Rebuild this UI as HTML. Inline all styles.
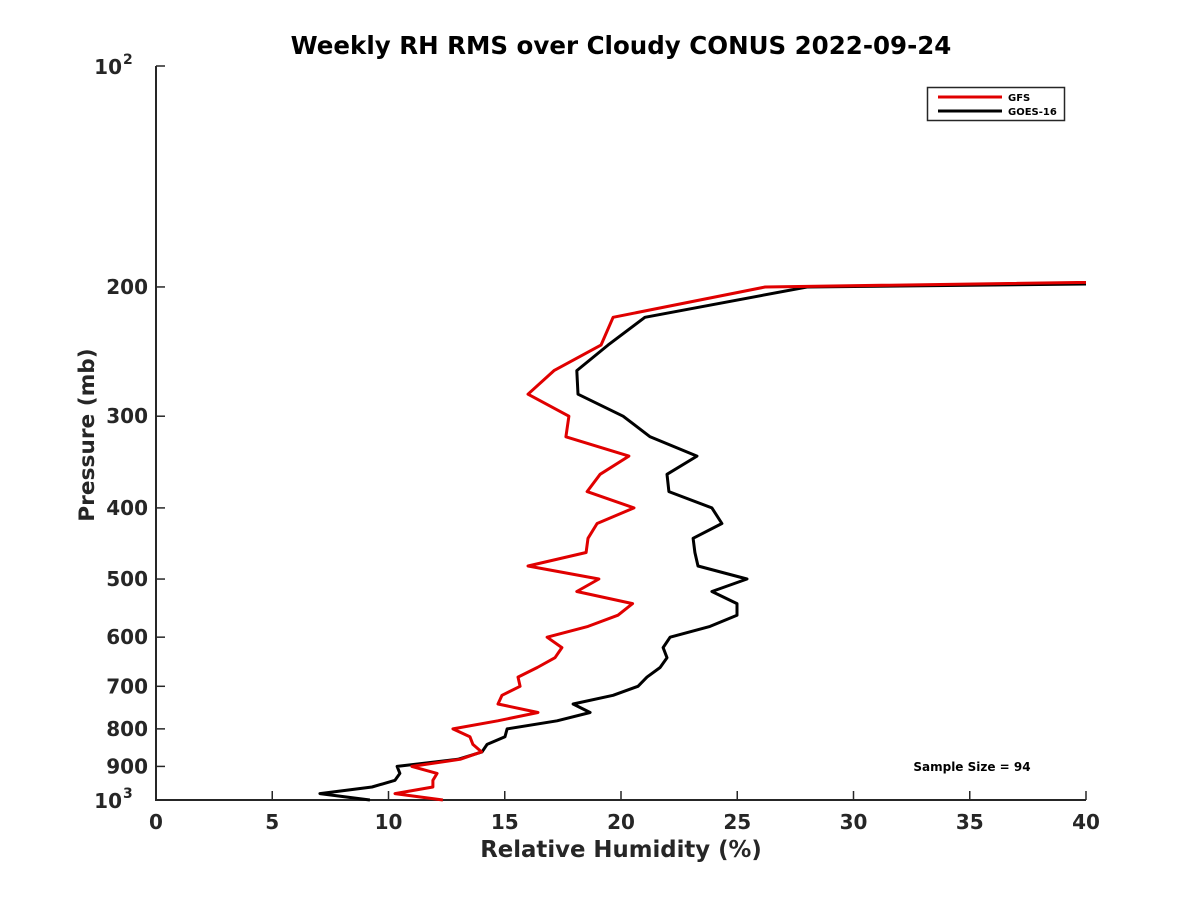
<!DOCTYPE html>
<html><head><meta charset="utf-8"><style>
html,body{margin:0;padding:0;background:#fff;}
svg text{font-family:"DejaVu Sans","Liberation Sans",sans-serif;font-weight:bold;fill:#262626;}
</style></head><body>
<svg id="chart" width="1200" height="900" xmlns="http://www.w3.org/2000/svg">
<rect width="1200" height="900" fill="#fff"/>
<text x="621" y="54" font-size="24.5" text-anchor="middle" style="fill:#000">Weekly RH RMS over Cloudy CONUS 2022-09-24</text>
<g id="axes"></g>
<g id="series"></g>
<text x="621" y="857" font-size="22.8" text-anchor="middle">Relative Humidity (%)</text>
<text transform="translate(94,435) rotate(-90)" font-size="21.7" text-anchor="middle">Pressure (mb)</text>
<text x="972" y="771" font-size="12" text-anchor="middle" style="fill:#000">Sample Size = 94</text>
<g>
<rect x="927.5" y="87.5" width="137" height="33" fill="#fff" stroke="#262626" stroke-width="1.5"/>
<line x1="938" y1="97" x2="1002" y2="97" stroke="#e00000" stroke-width="3"/>
<text x="1008" y="101" font-size="10" style="fill:#000">GFS</text>
<line x1="938" y1="111" x2="1002" y2="111" stroke="#000" stroke-width="3"/>
<text x="1008" y="115" font-size="10" style="fill:#000">GOES-16</text>
</g>
</svg>
<script>
const pressureLevels = [185,200,220,240,260,280,300,320,340,360,380,400,420,440,460,480,500,520,540,560,580,600,620,640,660,680,700,720,740,760,780,800,820,840,860,880,900,920,940,960,980,1000];
const gfsValues = [100,26.2,19.66,19.14,17.12,16.0,17.76,17.63,20.34,19.1,18.54,20.56,18.97,18.58,18.5,16.0,19.05,18.1,20.5,19.87,18.58,16.82,17.46,17.16,16.4,15.57,15.66,14.88,14.71,16.43,14.7,12.77,13.5,13.63,14.0,13.08,11.0,12.09,11.91,11.91,10.28,12.34];
const goesPressure = [189,200,220,240,260,280,300,320,340,360,380,400,420,440,460,480,500,520,540,560,580,600,620,640,660,680,700,720,740,760,780,800,820,840,860,880,900,920,940,960,980,1000];
const goesValues = [100,28.0,21.03,19.44,18.1,18.15,20.09,21.25,23.27,21.98,22.06,23.91,24.34,23.1,23.18,23.31,25.42,23.91,24.99,24.99,23.83,22.11,21.81,21.98,21.68,21.12,20.73,19.66,17.94,18.67,17.25,15.1,15.01,14.24,14.02,12.99,10.37,10.49,10.28,9.29,7.05,9.2];
const xTicks = [0,5,10,15,20,25,30,35,40];
const yTicks = [100,200,300,400,500,600,700,800,900,1000];
const yTickLabels = ["10^2","200","300","400","500","600","700","800","900","10^3"];

const X0=156,X1=1086,Y0=66,Y1=800;
const xScale = v => X0 + (v-0)/(40-0)*(X1-X0);
const yScale = p => Y0 + (Math.log10(p)-2)*(Y1-Y0);
const NS="http://www.w3.org/2000/svg";
function mk(tag, attrs, parent){const e=document.createElementNS(NS,tag);for(const k in attrs)e.setAttribute(k,attrs[k]);parent.appendChild(e);return e;}
const axes=document.getElementById('axes');
const series=document.getElementById('series');

const ax = mk('path',{d:`M${X0},${Y0} V${Y1} H${X1}`,fill:'none',stroke:'#262626','stroke-width':2},axes);



xTicks.forEach(v=>{
  const x=xScale(v);
  const t=mk('line',{x1:x,y1:Y1,x2:x,y2:Y1-9,stroke:'#262626','stroke-width':1.5},axes);
  
  
  const l=mk('text',{x:x,y:Y1+29,'font-size':20,'text-anchor':'middle'},axes);
  
  
  l.textContent=String(v);
});
yTicks.forEach((p,i)=>{
  const y=yScale(p);
  const t=mk('line',{x1:X0,y1:y,x2:X0+9,y2:y,stroke:'#262626','stroke-width':1.5},axes);
  
  
  const lab=yTickLabels[i];
  if(lab.includes('^')){
    const [b,e]=lab.split('^');
    const l=mk('text',{x:X0-34,y:y+8,'font-size':20,'text-anchor':'end'},axes);
    
    
    l.textContent=b;
    const s=mk('text',{x:X0-33,y:y-2,'font-size':14,'text-anchor':'start'},axes);
    
    
    s.textContent=e;
  } else {
    const l=mk('text',{x:X0-8,y:y+7,'font-size':20,'text-anchor':'end'},axes);
    
    
    l.textContent=lab;
  }
});

const clip=mk('clipPath',{id:'plotclip'},series);
mk('rect',{x:X0,y:Y0,width:X1-X0,height:Y1-Y0+2},clip);
function line(vals,pres,color,name){
  const d=vals.map((v,i)=>(i?'L':'M')+xScale(v).toFixed(1)+','+yScale(pres[i]).toFixed(1)).join(' ');
  const p=mk('path',{d:d,fill:'none',stroke:color,'stroke-width':3,'stroke-linejoin':'round','clip-path':'url(#plotclip)'},series);
  
  
}
line(goesValues,goesPressure,'#000','goes16-line');
line(gfsValues,pressureLevels,'#e00000','gfs-line');
</script>
</body></html>
